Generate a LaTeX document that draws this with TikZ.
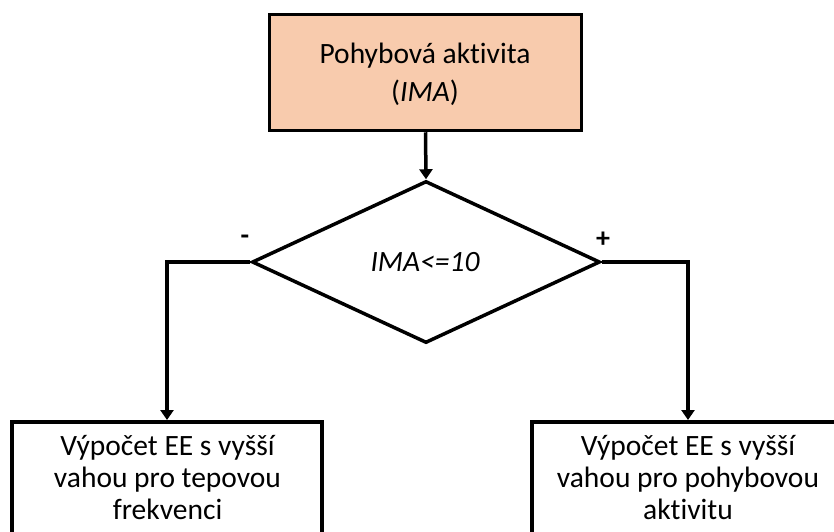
\documentclass[tikz,border=0pt]{standalone}
\usepackage{fontspec}
\setmainfont[RawFeature=-liga]{Carlito}
\usetikzlibrary{arrows.meta,shapes.geometric}

\definecolor{peach}{HTML}{F8CBAD}

\tikzset{
  box/.style={draw=black, line width=3.5pt, rectangle, inner sep=0pt},
  txt/.style={align=center, inner sep=0pt, font=\fontsize{29.5}{32}\selectfont},
  link/.style={draw=black, line width=3.5pt,
    -{Triangle[length=10pt,width=13pt]}},
  sign/.style={inner sep=0pt, font=\bfseries\fontsize{28}{30}\selectfont}
}

\begin{document}
\begin{tikzpicture}[x=1pt, y=-1pt]
  \useasboundingbox (0,0) rectangle (834,531);
  \clip (0,0) rectangle (834,531);

  % start block
  \node[box, fill=peach, minimum width=312pt, minimum height=116pt]
    (start) at (425.5,72.5) {};
  \node[txt, anchor=base, font=\fontsize{29.5}{38}\selectfont]
    (starttxt) at (425,101) {Pohybová aktivita\\(\textit{IMA})};

  % decision
  \node[draw=black, line width=3.5pt, diamond, inner sep=0pt,
        minimum width=348pt, minimum height=162pt, aspect=2.15]
    (dec) at (426,262) {};
  \node[txt, anchor=base, font=\itshape\fontsize{29.5}{32}\selectfont]
    (dectxt) at (425,271) {IMA<=10};

  % result blocks (their lower part runs below the frame)
  \node[box, anchor=north, minimum width=310pt, minimum height=160pt]
    (left) at (167,420) {};
  \node[txt, anchor=base] (lefttxt) at (167.5,519)
    {Výpočet EE s vyšší\\vahou pro tepovou\\frekvenci};
  \node[box, anchor=north, minimum width=312pt, minimum height=160pt]
    (right) at (688,420) {};
  \node[txt, anchor=base] (righttxt) at (688,519)
    {Výpočet EE s vyšší\\vahou pro pohybovou\\aktivitu};

  % connectors
  \coordinate (lcorner) at (left.north |- dec.west);
  \coordinate (rcorner) at (right.north |- dec.east);
  \draw[link] (start.south) -- (dec.north);
  \draw[link] (dec.west) -- (lcorner) -- (left.north);
  \draw[link] (dec.east) -- (rcorner) -- (right.north);

  % branch signs
  \node[sign] (minus) at (245,240) {-};
  \node[sign] (plus) at (603,240) {+};
\end{tikzpicture}
\end{document}
